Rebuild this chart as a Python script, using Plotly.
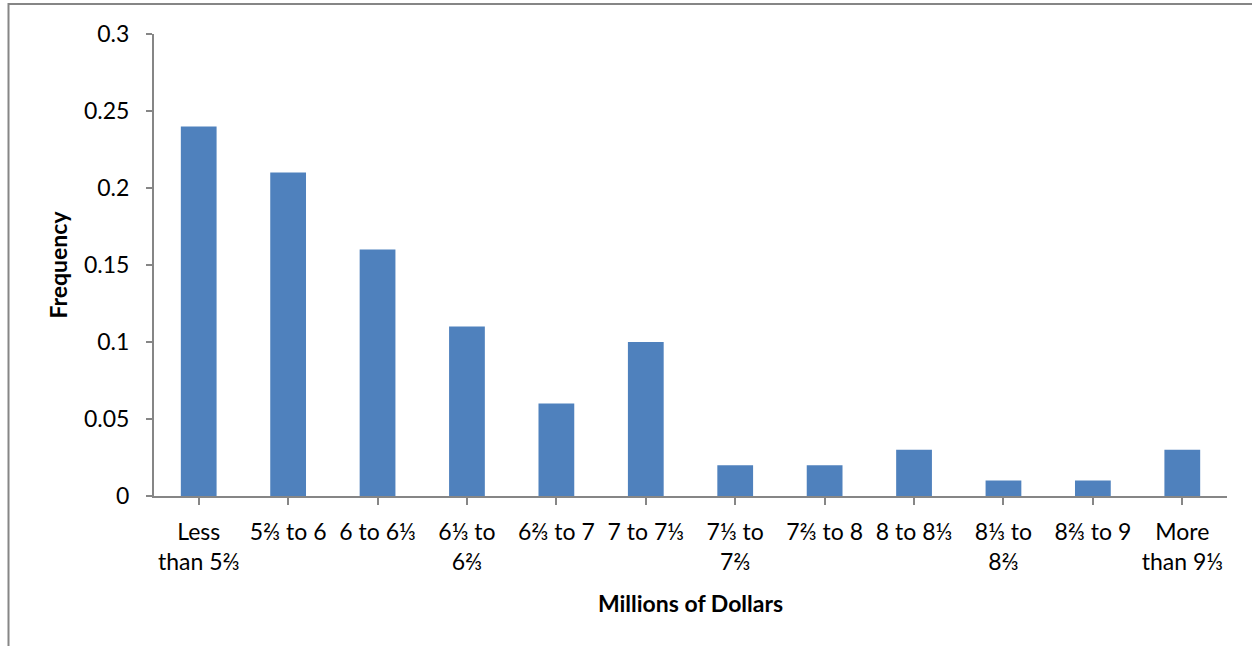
import plotly.graph_objects as go

# Income ranges (millions of dollars) and their relative frequencies
categories = [
    "Less<br>than 5⅔", "5⅔ to 6", "6 to 6⅓", "6⅓ to<br>6⅔", "6⅔ to 7",
    "7 to 7⅓", "7⅓ to<br>7⅔", "7⅔ to 8", "8 to 8⅓", "8⅓ to<br>8⅔",
    "8⅔ to 9", "More<br>than 9⅓",
]
frequency = [0.24, 0.21, 0.16, 0.11, 0.06, 0.10, 0.02, 0.02, 0.03, 0.01, 0.01, 0.03]
y_ticks = [0, 0.05, 0.1, 0.15, 0.2, 0.25, 0.3]

W, H = 1252, 646
ML, MR, MT, MB = 154, 25, 34, 150
axis_grey = "#868686"
font_family = "Lato, 'Open Sans', sans-serif"

fig = go.Figure(
    go.Bar(
        x=list(range(len(categories))),
        y=frequency,
        marker=dict(color="#4F81BD", line=dict(width=0)),
        hoverinfo="skip",
    )
)

pw = W - ML - MR
ph = H - MT - MB

def px_to_paper_x(px):
    return (px - ML) / pw

def px_to_paper_y(py):
    return 1 - (py - MT) / ph

# Outer chart frame (left and top edges)
frame = dict(type="line", xref="paper", yref="paper", line=dict(color=axis_grey, width=2))
fig.add_shape(**frame, x0=px_to_paper_x(8.5), x1=px_to_paper_x(8.5),
              y0=px_to_paper_y(3), y1=px_to_paper_y(647))
fig.add_shape(**frame, x0=px_to_paper_x(8), x1=px_to_paper_x(1253),
              y0=px_to_paper_y(4), y1=px_to_paper_y(4))

fig.update_layout(
    width=W, height=H,
    margin=dict(l=ML, r=MR, t=MT, b=MB, pad=0),
    paper_bgcolor="white", plot_bgcolor="white",
    bargap=0.6,
    showlegend=False,
    font=dict(family=font_family, color="black", size=24),
)
fig.update_xaxes(
    tickmode="array",
    tickvals=list(range(len(categories))),
    ticktext=categories,
    range=[-0.5, len(categories) - 0.5],
    tickson="boundaries",
    ticks="outside", ticklen=7, tickwidth=2, tickcolor=axis_grey,
    showline=True, linecolor=axis_grey, linewidth=2,
    showgrid=False, zeroline=False,
    tickangle=0,
    tickfont=dict(size=23),
    ticklabelstandoff=7,
    title=dict(text="<b>Millions of Dollars</b>", font=dict(size=23), standoff=22),
)
fig.update_yaxes(
    range=[0, 0.3],
    tickmode="array",
    tickvals=y_ticks,
    ticktext=[f"{v:g}" for v in y_ticks],
    ticks="outside", ticklen=6, tickwidth=2, tickcolor=axis_grey,
    showline=True, linecolor=axis_grey, linewidth=2,
    showgrid=False, zeroline=False,
    tickfont=dict(size=23),
    ticklabelstandoff=12,
    title=dict(text="<b>Frequency</b>", font=dict(size=23), standoff=10),
)

fig.write_html("out.html")
